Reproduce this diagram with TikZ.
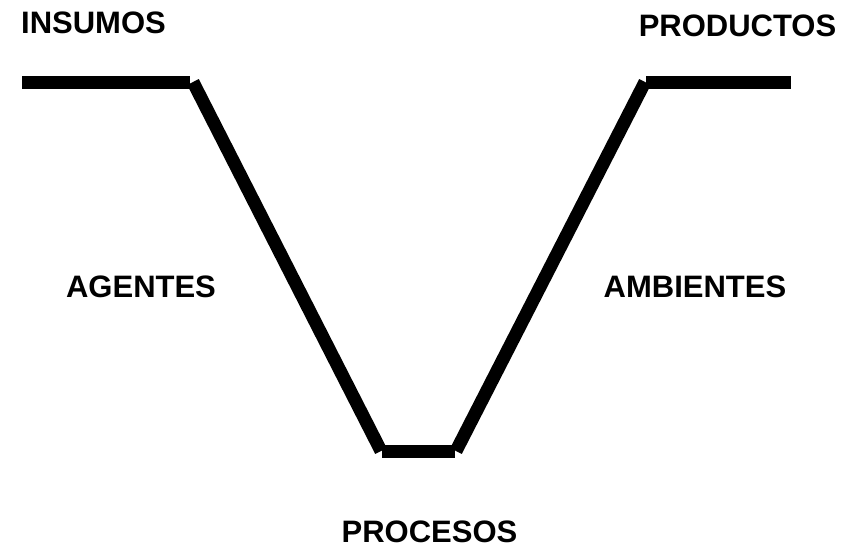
\documentclass[tikz,border=0pt]{standalone}
\usepackage{fontspec}
\setmainfont{Liberation Sans}
\begin{document}
\begin{tikzpicture}[x=1pt,y=-1pt,
  lbl/.style={font=\fontsize{31}{36}\selectfont\bfseries, inner sep=0pt, anchor=base},
  bar/.style={line width=13pt, line cap=butt}]
\useasboundingbox (0,0) rectangle (847,547);
\node[lbl] (insumos) at (93.5,33) {INSUMOS};
\node[lbl] (productos) at (737.5,36) {PRODUCTOS};
\node[lbl] (agentes) at (141,297) {AGENTES};
\node[lbl] (ambientes) at (695,297) {AMBIENTES};
\node[lbl] (procesos) at (429.5,542) {PROCESOS};
\coordinate (a) at (22,82.5);
\coordinate (b) at (190,82.5);
\coordinate (b2) at (193,82);
\coordinate (c2) at (381,451);
\coordinate (c) at (382,451);
\coordinate (d) at (455,451);
\coordinate (d2) at (456,451);
\coordinate (e2) at (645,82);
\coordinate (e) at (646,82.5);
\coordinate (f) at (791,82.5);
\draw[bar] (a) -- (b);
\draw[bar] (b2) -- (c2);
\draw[bar] (c) -- (d);
\draw[bar] (d2) -- (e2);
\draw[bar] (e) -- (f);
\end{tikzpicture}
\end{document}
